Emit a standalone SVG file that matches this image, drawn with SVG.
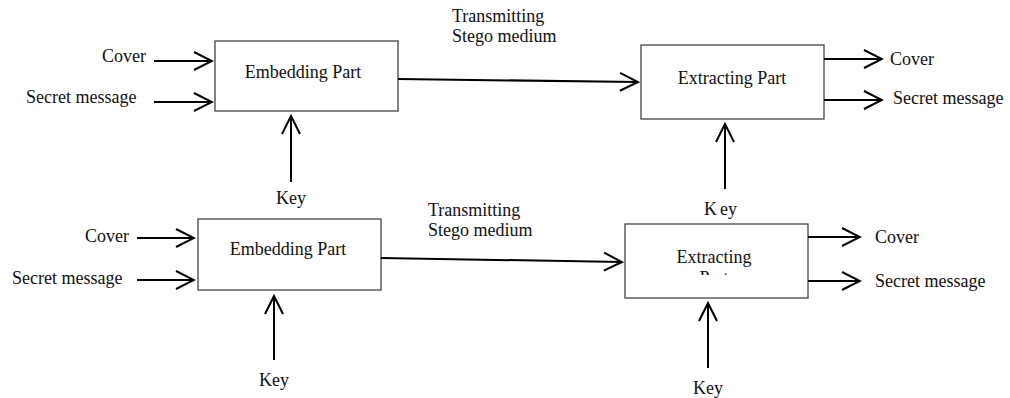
<svg xmlns="http://www.w3.org/2000/svg" width="1010" height="398" viewBox="0 0 1010 398">
<style>
  .box { fill: #ffffff; stroke: #444444; stroke-width: 1.3; }
  .lbl { font-family: "Liberation Serif", "Times New Roman", serif; font-size: 18px; fill: #111111; }
  .mid { text-anchor: middle; }
  .end { text-anchor: end; }
  .arr { stroke: #000000; stroke-width: 2; fill: none; marker-end: url(#open); }
</style>
<defs>
  <marker id="open" viewBox="-20 -11 22 22" refX="0" refY="0" markerWidth="22" markerHeight="22" markerUnits="userSpaceOnUse" orient="auto">
    <path d="M-18,-9 L0,0 L-18,9" fill="none" stroke="#000000" stroke-width="2"/>
  </marker>
  <clipPath id="clipD">
    <rect x="626" y="225" width="181" height="50"/>
  </clipPath>
</defs>
<rect x="0" y="0" width="1010" height="398" fill="#ffffff"/>

<g id="embed-top">
  <rect class="box" x="215" y="41" width="183" height="70"/>
  <text class="lbl mid" x="303" y="78">Embedding Part</text>
</g>
<g id="extract-top">
  <rect class="box" x="641" y="45" width="183" height="74"/>
  <text class="lbl mid" x="732" y="84">Extracting Part</text>
</g>
<g id="embed-bottom">
  <rect class="box" x="198" y="219" width="183" height="71"/>
  <text class="lbl mid" x="288" y="255">Embedding Part</text>
</g>
<g id="extract-bottom">
  <rect class="box" x="625" y="224" width="183" height="74"/>
  <g clip-path="url(#clipD)">
    <text class="lbl mid" x="714" y="263">Extracting</text>
    <text class="lbl mid" x="714" y="284">Part</text>
  </g>
</g>

<g id="labels">
  <text class="lbl end" x="146" y="62">Cover</text>
  <text class="lbl" x="26" y="103">Secret message</text>
  <text class="lbl mid" x="291" y="204">Key</text>
  <text class="lbl" x="452" y="22">Transmitting</text>
  <text class="lbl" x="452" y="42">Stego medium</text>
  <text class="lbl" x="890" y="65">Cover</text>
  <text class="lbl" x="893" y="104">Secret message</text>
  <text class="lbl" x="704" y="215">K<tspan dx="3">ey</tspan></text>

  <text class="lbl end" x="129" y="242">Cover</text>
  <text class="lbl" x="12" y="284">Secret message</text>
  <text class="lbl mid" x="274" y="386">Key</text>
  <text class="lbl" x="428" y="216">Transmitting</text>
  <text class="lbl" x="428" y="236">Stego medium</text>
  <text class="lbl" x="875" y="243">Cover</text>
  <text class="lbl" x="875" y="287">Secret message</text>
  <text class="lbl mid" x="708" y="394">Key</text>
</g>

<g id="connectors">
  <line class="arr" x1="154" y1="61" x2="212" y2="61"/>
  <line class="arr" x1="154" y1="102" x2="212" y2="102"/>
  <line class="arr" x1="291" y1="182" x2="291" y2="116"/>
  <line class="arr" x1="398" y1="79" x2="638" y2="82"/>
  <line class="arr" x1="824" y1="59" x2="882" y2="59"/>
  <line class="arr" x1="824" y1="100" x2="882" y2="100"/>
  <line class="arr" x1="725" y1="189" x2="725" y2="124"/>

  <line class="arr" x1="137" y1="238" x2="194" y2="238"/>
  <line class="arr" x1="137" y1="280" x2="194" y2="280"/>
  <line class="arr" x1="274" y1="360" x2="274" y2="296"/>
  <line class="arr" x1="381" y1="258" x2="622" y2="262"/>
  <line class="arr" x1="808" y1="237" x2="860" y2="237"/>
  <line class="arr" x1="808" y1="281" x2="860" y2="281"/>
  <line class="arr" x1="708" y1="368" x2="708" y2="303"/>
</g>
</svg>
